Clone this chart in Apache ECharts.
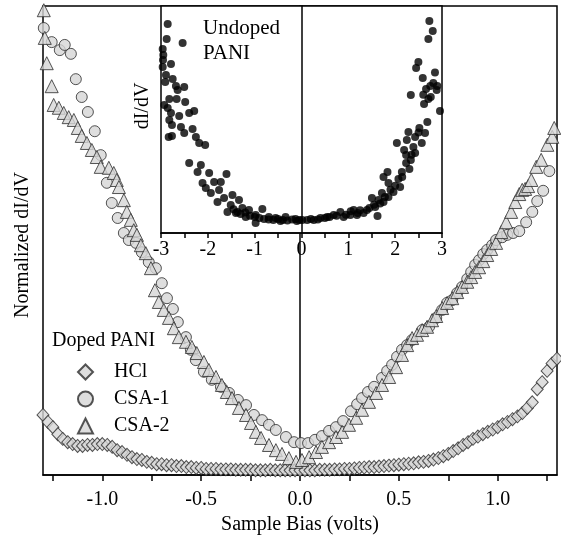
<!DOCTYPE html>
<html>
<head>
<meta charset="utf-8">
<script src="https://cdn.jsdelivr.net/npm/echarts@6/dist/echarts.min.js"></script>
<style>
  html, body { margin: 0; padding: 0; background: #fff; }
  #chart { width: 561px; height: 550px; }
</style>
</head>
<body>
<div id="chart"></div>
<script>
// tick positions (volts)
var biasTicks = [-1.25, -1, -0.75, -0.5, -0.25, 0, 0.25, 0.5, 0.75, 1, 1.25];
var biasLabels = [-1, -0.5, 0, 0.5, 1];
var insetTicks = [-3, -2.5, -2, -1.5, -1, -0.5, 0, 0.5, 1, 1.5, 2, 2.5, 3];
var insetLabels = [-3, -2, -1, 0, 1, 2, 3];

// doped PANI, [bias, normalized dI/dV]
var hcl = [
  [-1.300,0.128],[-1.275,0.113],[-1.250,0.102],[-1.225,0.087],[-1.200,0.077],[-1.175,0.070],
  [-1.150,0.066],[-1.125,0.062],[-1.100,0.062],[-1.075,0.064],[-1.050,0.064],[-1.025,0.066],
  [-1.000,0.066],[-0.975,0.064],[-0.950,0.060],[-0.925,0.053],[-0.900,0.049],[-0.875,0.043],
  [-0.850,0.038],[-0.825,0.034],[-0.800,0.032],[-0.775,0.028],[-0.750,0.026],[-0.725,0.023],
  [-0.700,0.023],[-0.675,0.021],[-0.650,0.021],[-0.625,0.019],[-0.600,0.019],[-0.575,0.017],
  [-0.550,0.017],[-0.525,0.015],[-0.500,0.015],[-0.475,0.013],[-0.450,0.013],[-0.425,0.013],
  [-0.400,0.012],[-0.375,0.012],[-0.350,0.012],[-0.325,0.011],[-0.300,0.011],[-0.275,0.011],
  [-0.250,0.011],[-0.225,0.010],[-0.200,0.010],[-0.175,0.010],[-0.150,0.011],[-0.125,0.010],
  [-0.100,0.010],[-0.075,0.010],[-0.050,0.010],[-0.025,0.010],[0.000,0.010],[0.025,0.010],
  [0.050,0.010],[0.075,0.010],[0.100,0.011],[0.125,0.011],[0.150,0.011],[0.175,0.012],
  [0.200,0.012],[0.225,0.013],[0.250,0.013],[0.275,0.014],[0.300,0.015],[0.325,0.016],
  [0.350,0.017],[0.375,0.017],[0.400,0.018],[0.425,0.019],[0.450,0.020],[0.475,0.021],
  [0.500,0.022],[0.525,0.023],[0.550,0.024],[0.575,0.025],[0.600,0.027],[0.625,0.028],
  [0.650,0.030],[0.675,0.033],[0.700,0.036],[0.725,0.040],[0.750,0.045],[0.775,0.051],
  [0.800,0.057],[0.825,0.064],[0.850,0.070],[0.875,0.077],[0.900,0.082],[0.925,0.087],
  [0.950,0.092],[0.975,0.097],[1.000,0.102],[1.025,0.108],[1.050,0.113],[1.075,0.119],
  [1.100,0.125],[1.125,0.132],[1.150,0.143],[1.175,0.155],[1.200,0.183],[1.225,0.198],
  [1.250,0.222],[1.275,0.238],[1.300,0.248]
];
var csa1 = [
  [-1.296,0.953],[-1.256,0.923],[-1.215,0.906],[-1.190,0.917],[-1.159,0.898],[-1.134,0.844],
  [-1.104,0.806],[-1.073,0.774],[-1.038,0.733],[-1.008,0.682],[-0.977,0.623],[-0.952,0.580],
  [-0.922,0.548],[-0.891,0.516],[-0.866,0.501],[-0.830,0.495],[-0.800,0.475],[-0.765,0.454],
  [-0.729,0.441],[-0.699,0.409],[-0.673,0.377],[-0.643,0.354],[-0.618,0.326],[-0.577,0.294],
  [-0.552,0.267],[-0.527,0.245],[-0.486,0.220],[-0.446,0.203],[-0.400,0.188],[-0.359,0.175],
  [-0.314,0.160],[-0.273,0.149],[-0.233,0.128],[-0.192,0.117],[-0.157,0.107],[-0.122,0.096],
  [-0.071,0.081],[-0.030,0.070],[0.005,0.068],[0.041,0.068],[0.076,0.075],[0.111,0.083],
  [0.147,0.094],[0.182,0.102],[0.218,0.115],[0.258,0.136],[0.289,0.151],[0.314,0.164],
  [0.344,0.177],[0.375,0.188],[0.415,0.207],[0.441,0.222],[0.466,0.235],[0.491,0.252],
  [0.516,0.267],[0.542,0.277],[0.567,0.288],[0.618,0.309],[0.653,0.316],[0.689,0.335],
  [0.719,0.352],[0.744,0.367],[0.770,0.373],[0.795,0.388],[0.820,0.401],[0.846,0.418],
  [0.866,0.433],[0.886,0.448],[0.906,0.458],[0.927,0.471],[0.947,0.480],[0.972,0.490],
  [0.992,0.501],[1.023,0.507],[1.048,0.512],[1.078,0.516],[1.109,0.520],[1.144,0.539],
  [1.175,0.561],[1.200,0.584],[1.230,0.606],[1.261,0.648]
];
var csa2 = [
  [-1.296,0.991],[-1.291,0.932],[-1.281,0.878],[-1.256,0.829],[-1.246,0.789],[-1.220,0.783],
  [-1.195,0.772],[-1.170,0.763],[-1.144,0.757],[-1.124,0.740],[-1.104,0.723],[-1.078,0.708],
  [-1.053,0.693],[-1.028,0.678],[-1.008,0.657],[-0.967,0.655],[-0.942,0.644],[-0.927,0.629],
  [-0.916,0.614],[-0.891,0.586],[-0.876,0.561],[-0.856,0.544],[-0.841,0.522],[-0.825,0.512],
  [-0.805,0.490],[-0.780,0.473],[-0.754,0.441],[-0.734,0.394],[-0.714,0.369],[-0.689,0.352],
  [-0.663,0.335],[-0.638,0.313],[-0.613,0.294],[-0.577,0.284],[-0.547,0.273],[-0.522,0.260],
  [-0.486,0.241],[-0.461,0.224],[-0.425,0.209],[-0.395,0.192],[-0.370,0.177],[-0.344,0.164],
  [-0.309,0.143],[-0.273,0.128],[-0.248,0.111],[-0.223,0.092],[-0.197,0.079],[-0.157,0.064],
  [-0.122,0.053],[-0.091,0.045],[-0.056,0.036],[-0.020,0.028],[0.010,0.032],[0.046,0.038],
  [0.081,0.049],[0.111,0.060],[0.147,0.070],[0.182,0.081],[0.213,0.092],[0.248,0.107],
  [0.284,0.122],[0.314,0.139],[0.349,0.156],[0.385,0.175],[0.415,0.192],[0.451,0.209],
  [0.486,0.230],[0.516,0.256],[0.542,0.277],[0.567,0.292],[0.592,0.299],[0.618,0.309],
  [0.643,0.316],[0.668,0.330],[0.689,0.339],[0.719,0.356],[0.744,0.367],[0.770,0.377],
  [0.795,0.390],[0.820,0.401],[0.846,0.412],[0.866,0.422],[0.886,0.433],[0.906,0.443],
  [0.927,0.456],[0.947,0.469],[0.967,0.482],[0.992,0.495],[1.018,0.518],[1.043,0.539],
  [1.068,0.561],[1.089,0.582],[1.109,0.599],[1.124,0.608],[1.139,0.610],[1.154,0.616],
  [1.170,0.629],[1.195,0.657],[1.220,0.672],[1.251,0.704],[1.276,0.721],[1.286,0.740]
];

// undoped PANI (inset), [bias, dI/dV]
var undoped = [
  [-2.857,0.919],[-2.879,0.851],[-2.538,0.833],[-2.964,0.806],[-2.951,0.779],[-2.957,0.757],
  [-2.964,0.725],[-2.787,0.739],[-2.894,0.689],[-2.751,0.671],[-2.909,0.658],[-2.681,0.640],
  [-2.504,0.635],[-2.645,0.622],[-2.823,0.581],[-2.666,0.581],[-2.483,0.568],[-2.930,0.554],
  [-2.857,0.541],[-2.291,0.527],[-2.398,0.518],[-2.787,0.518],[-2.611,0.505],[-2.823,0.486],
  [-2.766,0.464],[-2.574,0.455],[-2.326,0.446],[-2.504,0.428],[-2.766,0.414],[-2.836,0.410],
  [-2.255,0.410],[-2.185,0.383],[-2.057,0.374],[-2.398,0.293],[-2.149,0.284],[-2.219,0.252],
  [-1.972,0.248],[-1.602,0.243],[-2.113,0.203],[-1.866,0.207],[-1.723,0.207],[-2.043,0.180],
  [-1.760,0.171],[-1.936,0.158],[-1.474,0.149],[-1.653,0.135],[-1.334,0.126],[-1.794,0.117],
  [-1.511,0.104],[-1.262,0.090],[-1.581,0.072],[-1.368,0.072],[-1.121,0.081],[-0.836,0.086],
  [-0.979,0.059],[-1.191,0.050],[-0.696,0.050],[-0.979,0.023],[-0.553,0.045],[-0.340,0.050],
  [-0.128,0.041],[0.015,0.036],[-1.450,0.085],[-1.400,0.068],[-1.300,0.063],[-1.200,0.070],
  [-1.100,0.055],[-1.000,0.050],[-0.900,0.045],[-0.800,0.040],[-0.700,0.038],[-0.600,0.036],
  [-0.500,0.040],[-0.450,0.032],[-0.400,0.036],[-0.300,0.034],[-0.200,0.038],[-0.100,0.032],
  [-0.050,0.036],
  [2.730,0.932],[2.802,0.887],[2.709,0.851],[2.496,0.748],[2.447,0.721],[2.589,0.676],
  [2.815,0.653],[2.660,0.626],[2.887,0.622],[2.334,0.599],[2.760,0.590],[2.709,0.581],
  [2.617,0.559],[2.957,0.527],[2.687,0.477],[2.517,0.450],[2.283,0.432],[2.638,0.428],
  [2.426,0.410],[2.249,0.396],[2.036,0.383],[2.568,0.383],[2.389,0.365],[2.191,0.351],
  [2.426,0.338],[2.234,0.329],[2.334,0.306],[2.234,0.293],[2.143,0.252],[2.304,0.266],
  [1.751,0.230],[1.836,0.252],[1.857,0.203],[2.070,0.221],[2.106,0.185],[1.964,0.162],
  [1.717,0.158],[1.857,0.140],[1.645,0.126],[1.504,0.135],[1.751,0.117],[1.574,0.095],
  [1.398,0.081],[1.623,0.054],[1.326,0.068],[1.113,0.081],[1.043,0.059],[0.830,0.072],
  [0.687,0.059],[0.547,0.050],[0.404,0.045],[0.262,0.036],[0.121,0.036],[0.900,0.050],
  [1.185,0.059],[0.200,0.040],[0.350,0.038],[0.500,0.045],[0.600,0.050],[0.750,0.055],
  [0.950,0.060],[1.050,0.075],[1.200,0.068],[1.250,0.080],[1.450,0.090],[1.550,0.105],
  [1.680,0.110],[1.780,0.140],[1.900,0.172],[2.000,0.190],[2.150,0.230],[2.350,0.330],
  [2.500,0.430],[2.600,0.600],[2.750,0.640],[2.850,0.700],[2.900,0.640]
];

var serif = '"Liberation Serif", "DejaVu Serif", serif';
var markerStyle = { color: '#d6d6d6', borderColor: '#2b2b2b', borderWidth: 1 };

var myChart = echarts.init(document.getElementById('chart'));

var option = {
  animation: false,
  backgroundColor: '#fff',
  textStyle: { fontFamily: serif, color: '#000' },
  grid: [
    { left: 43, top: 6, width: 514, height: 469, show: true, borderColor: '#000', borderWidth: 1.5, backgroundColor: 'transparent' },
    { left: 161, top: 6, width: 281, height: 227, show: true, borderColor: '#000', borderWidth: 1.5, backgroundColor: '#fff', z: 5 }
  ],
  legend: {
    data: ['HCl', 'CSA-1', 'CSA-2'],
    orient: 'vertical',
    left: 72,
    top: 357,
    itemWidth: 15,
    itemHeight: 15,
    itemGap: 7,
    textStyle: { fontFamily: serif, fontSize: 20, color: '#000', padding: [0, 0, 0, 16] }
  },
  xAxis: [
    {
      gridIndex: 0, type: 'value', min: -1.3, max: 1.3,
      name: 'Sample Bias (volts)', nameLocation: 'middle', nameGap: 40,
      nameTextStyle: { fontFamily: serif, fontSize: 20, color: '#000' },
      axisLine: { onZero: false, lineStyle: { color: '#000', width: 1.5 } },
      axisTick: { customValues: biasTicks, length: 6, lineStyle: { color: '#000', width: 1.5 } },
      axisLabel: { customValues: biasLabels, margin: 15, fontFamily: serif, fontSize: 20, color: '#000',
        formatter: function (v) { return v.toFixed(1); } },
      splitLine: { show: false }
    },
    {
      gridIndex: 1, type: 'value', min: -3, max: 3,
      axisLine: { onZero: false, lineStyle: { color: '#000', width: 1.5 } },
      axisTick: { customValues: insetTicks, length: 5, lineStyle: { color: '#000', width: 1.5 } },
      axisLabel: { customValues: insetLabels, margin: 7, fontFamily: serif, fontSize: 20, color: '#000' },
      splitLine: { show: false }, z: 6
    }
  ],
  yAxis: [
    {
      gridIndex: 0, type: 'value', min: 0, max: 1,
      axisLine: { show: true, onZero: true, lineStyle: { color: '#000', width: 1.5 } },
      axisTick: { show: false }, axisLabel: { show: false }, splitLine: { show: false }
    },
    {
      gridIndex: 1, type: 'value', min: -0.0225, max: 1,
      axisLine: { show: true, onZero: true, lineStyle: { color: '#000', width: 1.5 } },
      axisTick: { show: false }, axisLabel: { show: false }, splitLine: { show: false }, z: 6
    }
  ],
  series: [
    { name: 'HCl', type: 'scatter', xAxisIndex: 0, yAxisIndex: 0, symbol: 'diamond', symbolSize: [12, 13], itemStyle: markerStyle, data: hcl, z: 2 },
    { name: 'CSA-1', type: 'scatter', xAxisIndex: 0, yAxisIndex: 0, symbol: 'circle', symbolSize: 11, itemStyle: markerStyle, data: csa1, z: 3 },
    { name: 'CSA-2', type: 'scatter', xAxisIndex: 0, yAxisIndex: 0, symbol: 'triangle', symbolSize: 13, itemStyle: markerStyle, data: csa2, z: 4 },
    { name: 'Undoped PANI', type: 'scatter', xAxisIndex: 1, yAxisIndex: 1, symbol: 'circle', symbolSize: 8, itemStyle: { color: '#000' }, data: undoped, z: 7 }
  ],
  graphic: [
    { type: 'text', x: 23, y: 245, rotation: Math.PI / 2, z: 10,
      style: { text: 'Normalized dI/dV', font: '20px ' + serif, fill: '#000', align: 'center', verticalAlign: 'middle' } },
    { type: 'text', x: 143, y: 106, rotation: Math.PI / 2, z: 10,
      style: { text: 'dI/dV', font: '20px ' + serif, fill: '#000', align: 'center', verticalAlign: 'middle' } },
    { type: 'text', x: 203, y: 16, z: 10,
      style: { text: 'Undoped\nPANI', font: '21px ' + serif, lineHeight: 25, fill: '#000' } },
    { type: 'text', x: 52, y: 331, z: 10,
      style: { text: 'Doped PANI', font: '20px ' + serif, fill: '#000' } }
  ]
};

myChart.setOption(option);
</script>
</body>
</html>
